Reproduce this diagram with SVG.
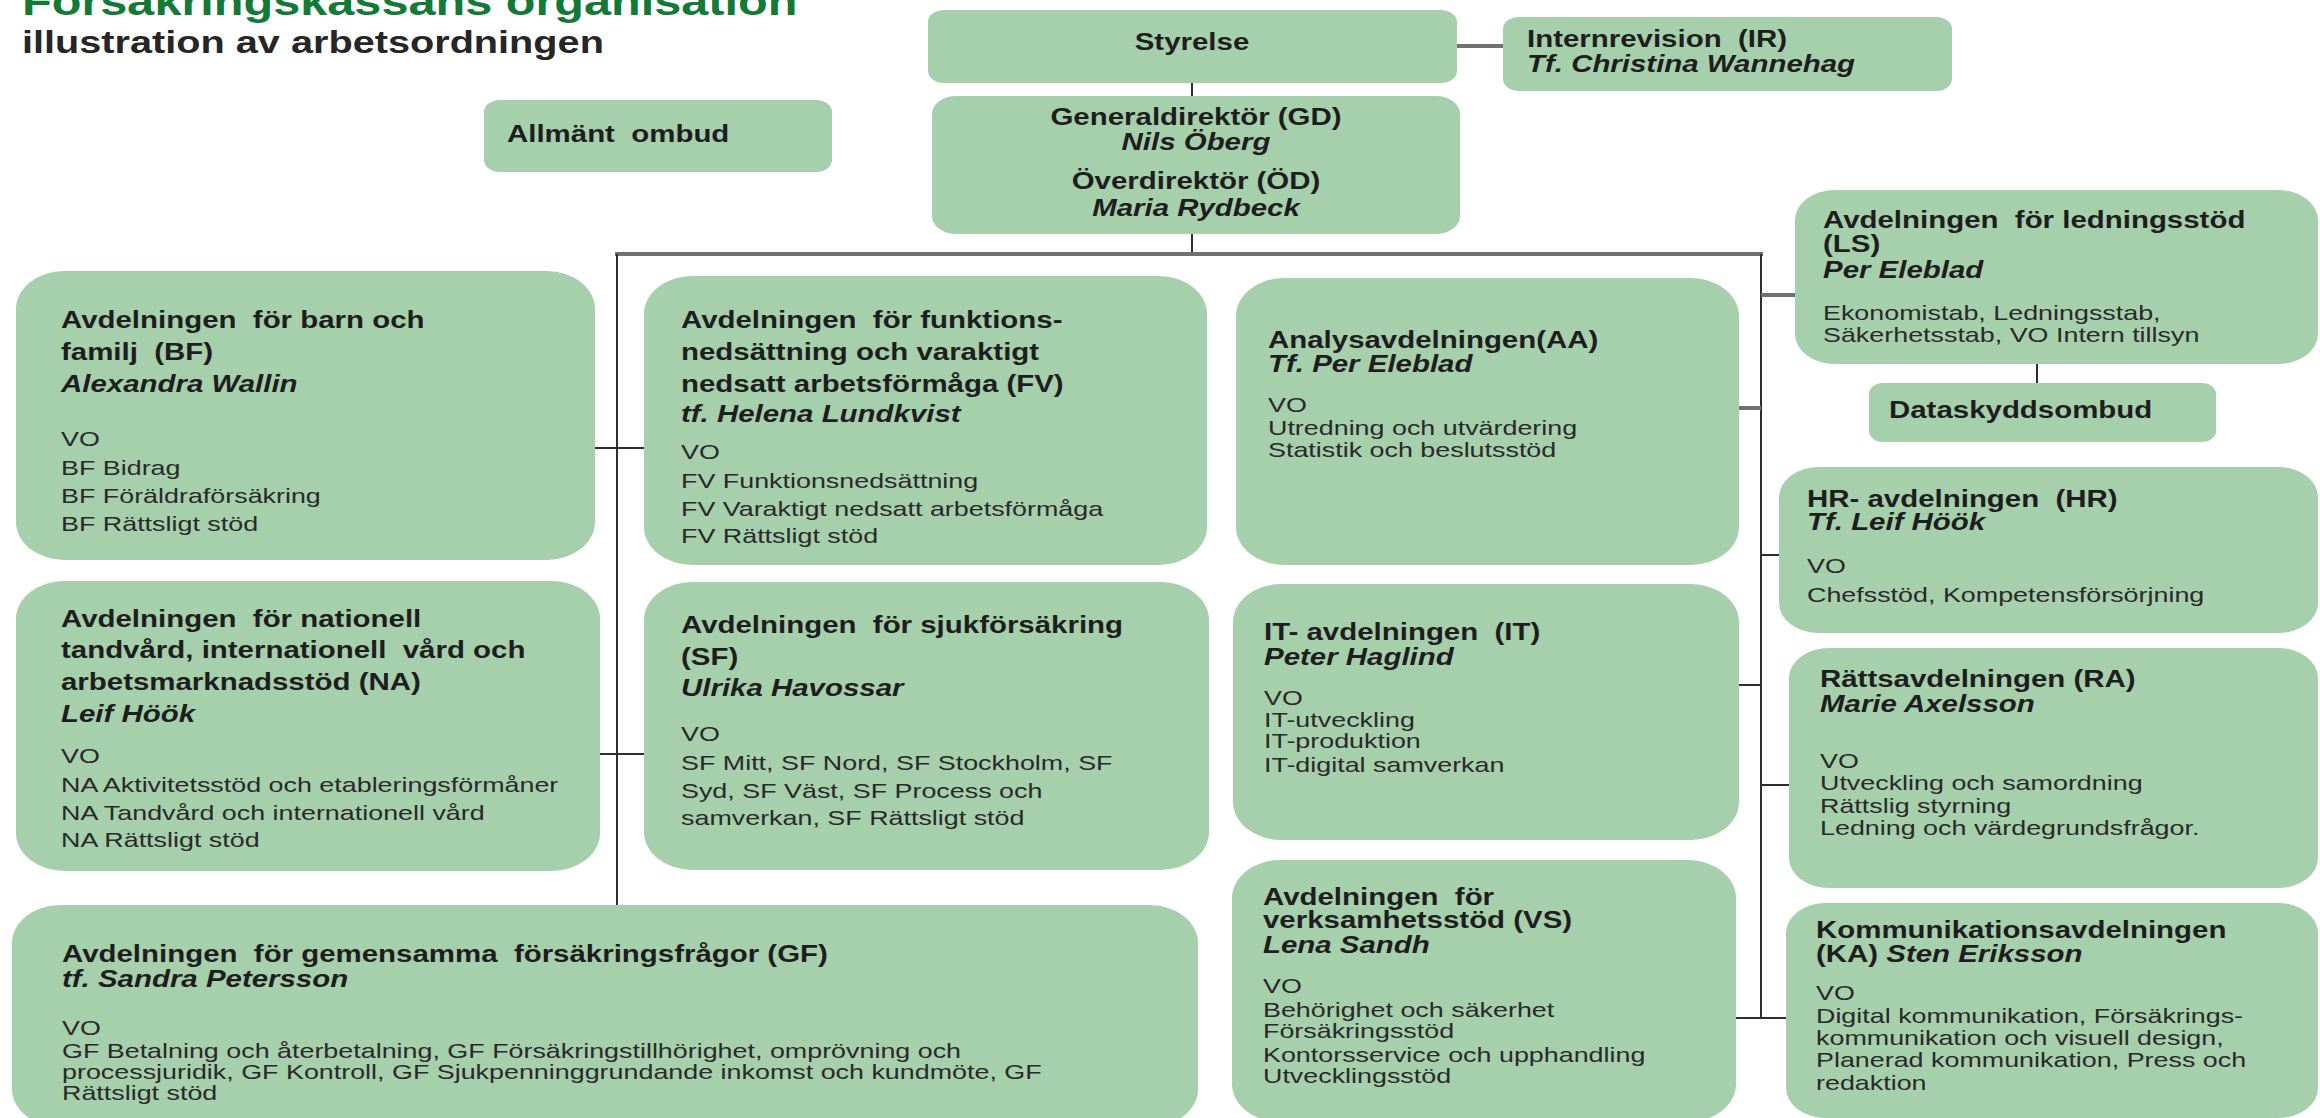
<svg xmlns="http://www.w3.org/2000/svg" width="2320" height="1118" viewBox="0 0 2320 1118">
<style>
.box{fill:#a6cfac}
text{font-family:"Liberation Sans",Arial,sans-serif;fill:#1e1e1e;white-space:pre}
.b{font-weight:bold;font-size:23px}
.bi{font-weight:bold;font-style:italic;font-size:23px}
.r{font-size:21px;fill:#2a2a2a}
.title{font-weight:bold;font-size:38px;fill:#127a37}
.sub{font-weight:bold;font-size:31px;fill:#262626}
.ln{stroke:#2e2e2e;stroke-width:2;fill:none}
.lg{stroke:#707070;stroke-width:4;fill:none}
</style>
<rect width="2320" height="1118" fill="#ffffff"/>
<g id="heading">
<g transform="translate(22 0) scale(1.28 1)"><text class="title" y="15">Försäkringskassans organisation</text></g>
<g transform="translate(22 0) scale(1.28 1)"><text class="sub" y="53">illustration av arbetsordningen</text></g>
</g>
<g id="connectors">
<line class="lg" x1="1457" y1="46" x2="1503" y2="46"/>
<line class="ln" x1="1192" y1="83" x2="1192" y2="96"/>
<line class="ln" x1="1192" y1="234" x2="1192" y2="254"/>
<line class="lg" x1="615" y1="254" x2="1763" y2="254"/>
<line class="ln" x1="617" y1="254" x2="617" y2="905"/>
<line class="ln" x1="595" y1="448" x2="644" y2="448"/>
<line class="ln" x1="600" y1="754" x2="644" y2="754"/>
<line class="ln" x1="1761" y1="254" x2="1761" y2="1018"/>
<line class="lg" x1="1761" y1="295" x2="1795" y2="295"/>
<line class="lg" x1="1739" y1="408" x2="1761" y2="408"/>
<line class="ln" x1="1761" y1="555" x2="1779" y2="555"/>
<line class="ln" x1="1739" y1="685" x2="1761" y2="685"/>
<line class="ln" x1="1761" y1="785" x2="1789" y2="785"/>
<line class="ln" x1="1736" y1="1018" x2="1786" y2="1018"/>
<line class="ln" x1="2037" y1="364" x2="2037" y2="383"/>
</g>
<g id="styrelse">
<rect class="box" x="928" y="10" width="529" height="73" rx="16" ry="12"/>
<g transform="translate(1192 0) scale(1.28 1)"><text class="b" y="50" text-anchor="middle">Styrelse</text></g>
</g>
<g id="internrevision">
<rect class="box" x="1503" y="17" width="449" height="74" rx="16" ry="12"/>
<g transform="translate(1527 0) scale(1.28 1)">
<text class="b" y="47">Internrevision  (IR)</text>
<text class="bi" y="72">Tf. Christina Wannehag</text>
</g>
</g>
<g id="allmant-ombud">
<rect class="box" x="484" y="100" width="348" height="72" rx="16" ry="12"/>
<g transform="translate(507 0) scale(1.28 1)"><text class="b" y="142">Allmänt  ombud</text></g>
</g>
<g id="gd">
<rect class="box" x="932" y="96" width="528" height="138" rx="24" ry="18"/>
<g transform="translate(1196 0) scale(1.28 1)">
<text class="b" y="125" text-anchor="middle">Generaldirektör (GD)</text>
<text class="bi" y="150" text-anchor="middle">Nils Öberg</text>
<text class="b" y="189" text-anchor="middle">Överdirektör (ÖD)</text>
<text class="bi" y="216" text-anchor="middle">Maria Rydbeck</text>
</g>
</g>
<g id="bf">
<rect class="box" x="16" y="271" width="579" height="289" rx="48" ry="38"/>
<g transform="translate(61 0) scale(1.28 1)">
<text class="b" y="328">Avdelningen  för barn och</text>
<text class="b" y="360">familj  (BF)</text>
<text class="bi" y="392">Alexandra Wallin</text>
<text class="r" y="446">VO</text>
<text class="r" y="475">BF Bidrag</text>
<text class="r" y="503">BF Föräldraförsäkring</text>
<text class="r" y="531">BF Rättsligt stöd</text>
</g>
</g>
<g id="fv">
<rect class="box" x="644" y="276" width="563" height="289" rx="48" ry="38"/>
<g transform="translate(681 0) scale(1.28 1)">
<text class="b" y="328">Avdelningen  för funktions-</text>
<text class="b" y="360">nedsättning och varaktigt</text>
<text class="b" y="392">nedsatt arbetsförmåga (FV)</text>
<text class="bi" y="422">tf. Helena Lundkvist</text>
<text class="r" y="459">VO</text>
<text class="r" y="488">FV Funktionsnedsättning</text>
<text class="r" y="516">FV Varaktigt nedsatt arbetsförmåga</text>
<text class="r" y="543">FV Rättsligt stöd</text>
</g>
</g>
<g id="na">
<rect class="box" x="16" y="581" width="584" height="290" rx="48" ry="38"/>
<g transform="translate(61 0) scale(1.28 1)">
<text class="b" y="627">Avdelningen  för nationell</text>
<text class="b" y="658">tandvård, internationell  vård och</text>
<text class="b" y="690">arbetsmarknadsstöd (NA)</text>
<text class="bi" y="722">Leif Höök</text>
<text class="r" y="763">VO</text>
<text class="r" y="792">NA Aktivitetsstöd och etableringsförmåner</text>
<text class="r" y="820">NA Tandvård och internationell vård</text>
<text class="r" y="847">NA Rättsligt stöd</text>
</g>
</g>
<g id="sf">
<rect class="box" x="644" y="582" width="565" height="288" rx="48" ry="38"/>
<g transform="translate(681 0) scale(1.28 1)">
<text class="b" y="633">Avdelningen  för sjukförsäkring</text>
<text class="b" y="665">(SF)</text>
<text class="bi" y="696">Ulrika Havossar</text>
<text class="r" y="741">VO</text>
<text class="r" y="770">SF Mitt, SF Nord, SF Stockholm, SF</text>
<text class="r" y="798">Syd, SF Väst, SF Process och</text>
<text class="r" y="825">samverkan, SF Rättsligt stöd</text>
</g>
</g>
<g id="gf">
<rect class="box" x="12" y="905" width="1186" height="222" rx="48" ry="38"/>
<g transform="translate(62 0) scale(1.28 1)">
<text class="b" y="962">Avdelningen  för gemensamma  försäkringsfrågor (GF)</text>
<text class="bi" y="987">tf. Sandra Petersson</text>
<text class="r" y="1035">VO</text>
<text class="r" y="1058">GF Betalning och återbetalning, GF Försäkringstillhörighet, omprövning och</text>
<text class="r" y="1079">processjuridik, GF Kontroll, GF Sjukpenninggrundande inkomst och kundmöte, GF</text>
<text class="r" y="1100">Rättsligt stöd</text>
</g>
</g>
<g id="aa">
<rect class="box" x="1236" y="278" width="503" height="287" rx="48" ry="38"/>
<g transform="translate(1268 0) scale(1.28 1)">
<text class="b" y="348">Analysavdelningen(AA)</text>
<text class="bi" y="372">Tf. Per Eleblad</text>
<text class="r" y="412">VO</text>
<text class="r" y="435">Utredning och utvärdering</text>
<text class="r" y="457">Statistik och beslutsstöd</text>
</g>
</g>
<g id="it">
<rect class="box" x="1233" y="584" width="506" height="256" rx="48" ry="38"/>
<g transform="translate(1264 0) scale(1.28 1)">
<text class="b" y="640">IT- avdelningen  (IT)</text>
<text class="bi" y="665">Peter Haglind</text>
<text class="r" y="705">VO</text>
<text class="r" y="727">IT-utveckling</text>
<text class="r" y="748">IT-produktion</text>
<text class="r" y="772">IT-digital samverkan</text>
</g>
</g>
<g id="vs">
<rect class="box" x="1232" y="860" width="504" height="262" rx="48" ry="38"/>
<g transform="translate(1263 0) scale(1.28 1)">
<text class="b" y="905">Avdelningen  för</text>
<text class="b" y="928">verksamhetsstöd (VS)</text>
<text class="bi" y="953">Lena Sandh</text>
<text class="r" y="993">VO</text>
<text class="r" y="1017">Behörighet och säkerhet</text>
<text class="r" y="1038">Försäkringsstöd</text>
<text class="r" y="1062">Kontorsservice och upphandling</text>
<text class="r" y="1083">Utvecklingsstöd</text>
</g>
</g>
<g id="ls">
<rect class="box" x="1795" y="190" width="523" height="174" rx="40" ry="30"/>
<g transform="translate(1823 0) scale(1.28 1)">
<text class="b" y="228">Avdelningen  för ledningsstöd</text>
<text class="b" y="252">(LS)</text>
<text class="bi" y="278">Per Eleblad</text>
<text class="r" y="320">Ekonomistab, Ledningsstab,</text>
<text class="r" y="342">Säkerhetsstab, VO Intern tillsyn</text>
</g>
</g>
<g id="dataskyddsombud">
<rect class="box" x="1869" y="383" width="347" height="59" rx="14" ry="11"/>
<g transform="translate(1889 0) scale(1.28 1)"><text class="b" y="418">Dataskyddsombud</text></g>
</g>
<g id="hr">
<rect class="box" x="1779" y="467" width="539" height="166" rx="40" ry="30"/>
<g transform="translate(1807 0) scale(1.28 1)">
<text class="b" y="507">HR- avdelningen  (HR)</text>
<text class="bi" y="530">Tf. Leif Höök</text>
<text class="r" y="573">VO</text>
<text class="r" y="602">Chefsstöd, Kompetensförsörjning</text>
</g>
</g>
<g id="ra">
<rect class="box" x="1789" y="648" width="529" height="240" rx="40" ry="30"/>
<g transform="translate(1820 0) scale(1.28 1)">
<text class="b" y="687">Rättsavdelningen (RA)</text>
<text class="bi" y="712">Marie Axelsson</text>
<text class="r" y="768">VO</text>
<text class="r" y="790">Utveckling och samordning</text>
<text class="r" y="813">Rättslig styrning</text>
<text class="r" y="835">Ledning och värdegrundsfrågor.</text>
</g>
</g>
<g id="ka">
<rect class="box" x="1786" y="903" width="532" height="215" rx="40" ry="30"/>
<g transform="translate(1816 0) scale(1.28 1)">
<text class="b" y="938">Kommunikationsavdelningen</text>
<text class="b" y="962">(KA) <tspan class="bi">Sten Eriksson</tspan></text>
<text class="r" y="1000">VO</text>
<text class="r" y="1023">Digital kommunikation, Försäkrings-</text>
<text class="r" y="1045">kommunikation och visuell design,</text>
<text class="r" y="1067">Planerad kommunikation, Press och</text>
<text class="r" y="1090">redaktion</text>
</g>
</g>
</svg>
